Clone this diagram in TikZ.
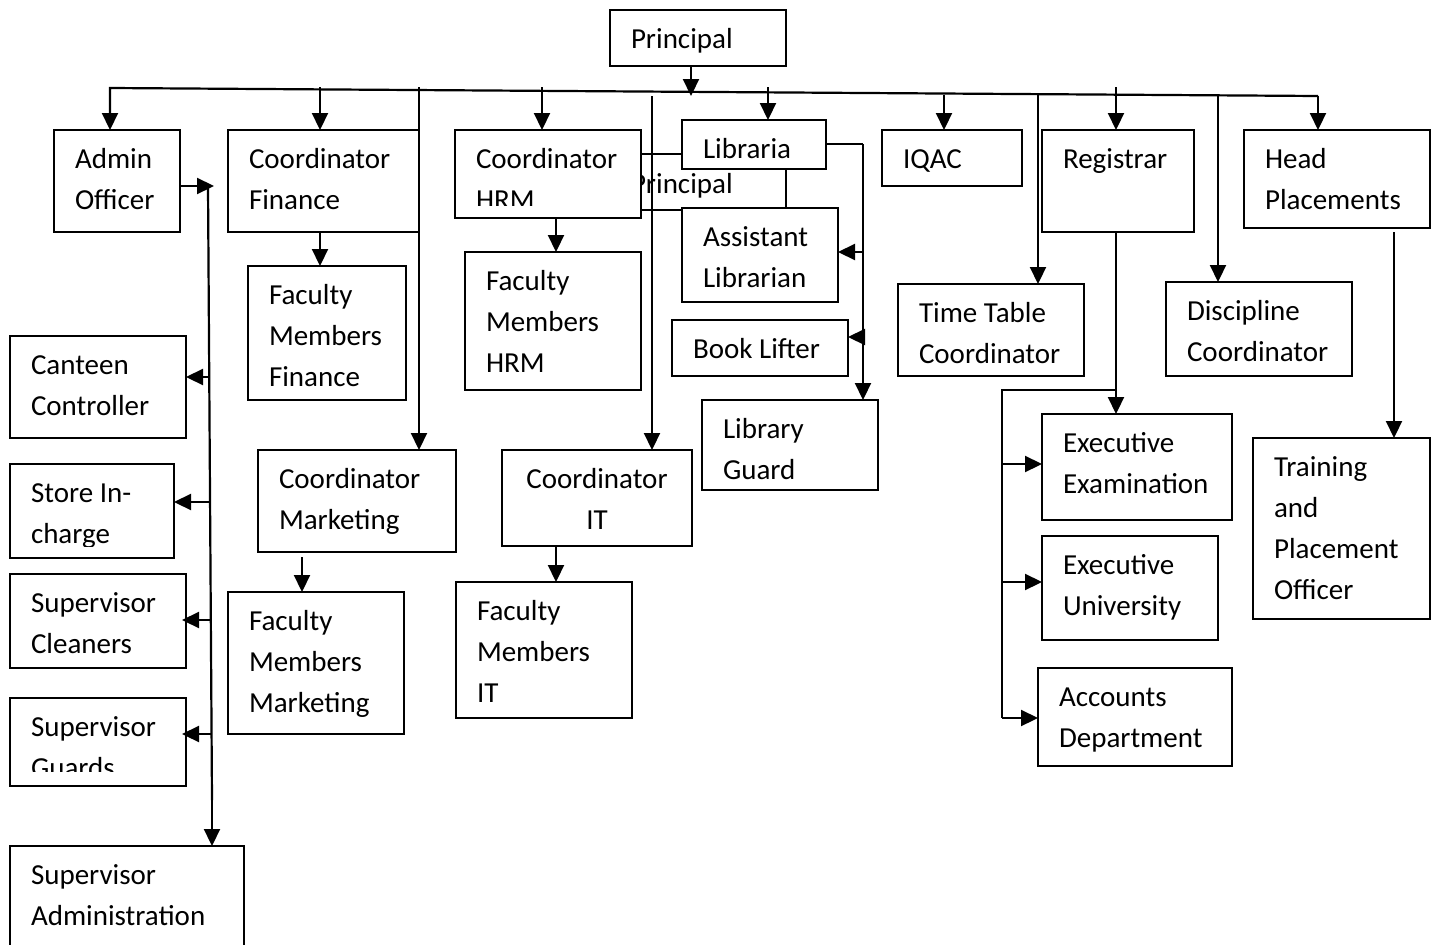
\documentclass[tikz,border=0pt]{standalone}
\usepackage{fontspec}
\setmainfont{Carlito}
\usetikzlibrary{arrows.meta,calc}
\tikzset{
  boxst/.style={draw, line width=2.2pt, fill=white, inner sep=0pt, outer sep=0pt, anchor=north west},
  txt/.style={inner sep=0pt, outer sep=0pt, font=\fontsize{29}{41}\selectfont, anchor=base west},
  wire/.style={line width=2.2pt},
  arrowed/.style={wire, -{Triangle[length=17pt 0 0,width=16pt 0 0]}},
}
\newcommand\obox[5]{\node[boxst, minimum width={(#4-#2)*1pt}, minimum height={(#5-#3)*1pt}] (#1) at (#2,#3) {};}
\newcommand\otext[2]{\node[txt] (#1-t) at ($(#1.north west)+(21,38)$) {\begin{tabular}[t]{@{}l@{}}#2\end{tabular}};}
\begin{document}
\begin{tikzpicture}[x=1pt,y=-1pt]
\useasboundingbox (0,0) rectangle (1436,945);
\fill[white] (0,0) rectangle (1436,945);

% stray text behind HRM box
\node[txt] (stray) at (631,193) {Principal};

% boxes
\obox{principal}{610}{10}{786}{66}
\obox{admin}{54}{130}{180}{232}
\obox{cfin}{228}{130}{419}{232}
\obox{fmfin}{248}{266}{406}{400}
\obox{canteen}{10}{336}{186}{438}
\obox{store}{10}{464}{174}{558}
\obox{sclean}{10}{574}{186}{668}
\obox{sguard}{10}{698}{186}{786}
\obox{sadmin}{10}{846}{244}{952}
\obox{cmkt}{258}{450}{456}{552}
\obox{fmmkt}{228}{592}{404}{734}
\obox{chrm}{455}{130}{641}{218}
\obox{fmhrm}{465}{252}{641}{390}
\obox{libr}{682}{120}{826}{169}
\obox{alib}{682}{208}{838}{302}
\obox{blift}{672}{320}{848}{376}
\obox{lguard}{702}{400}{878}{490}
\obox{cit}{502}{450}{692}{546}
\obox{fmit}{456}{582}{632}{718}
\obox{iqac}{882}{130}{1022}{186}
\obox{reg}{1042}{130}{1194}{232}
\obox{headp}{1244}{130}{1430}{228}
\obox{ttc}{898}{284}{1084}{376}
\obox{disc}{1166}{282}{1352}{376}
\obox{exexam}{1042}{414}{1232}{520}
\obox{exuni}{1042}{536}{1218}{640}
\obox{acc}{1038}{668}{1232}{766}
\obox{tpo}{1253}{438}{1430}{619}

% texts
\otext{principal}{Principal}
\otext{admin}{Admin\\Officer}
\otext{cfin}{Coordinator\\Finance}
\otext{fmfin}{Faculty\\Members\\Finance}
\otext{canteen}{Canteen\\Controller}
\begin{scope}\clip (10,464) rectangle (174,546);
\otext{store}{Store In-\\charge}
\end{scope}
\otext{sclean}{Supervisor\\Cleaners}
\begin{scope}\clip (10,698) rectangle (186,771);
\otext{sguard}{Supervisor\\Guards}
\end{scope}
\otext{sadmin}{Supervisor\\Administration}
\otext{cmkt}{Coordinator\\Marketing}
\otext{fmmkt}{Faculty\\Members\\Marketing}
\begin{scope}\clip (455,130) rectangle (641,205);
\otext{chrm}{Coordinator\\HRM}
\end{scope}
\otext{fmhrm}{Faculty\\Members\\HRM}
\otext{libr}{Libraria}
\otext{alib}{Assistant\\Librarian}
\otext{blift}{Book Lifter}
\otext{lguard}{Library\\Guard}
\node[txt, anchor=base] (cit-t) at ($(cit.north)+(0,38)$) {\begin{tabular}[t]{@{}c@{}}Coordinator\\IT\end{tabular}};
\otext{fmit}{Faculty\\Members\\IT}
\otext{iqac}{IQAC}
\otext{reg}{Registrar}
\otext{headp}{Head\\Placements}
\otext{ttc}{Time Table\\Coordinator}
\otext{disc}{Discipline\\Coordinator}
\otext{exexam}{Executive\\Examination}
\otext{exuni}{Executive\\University}
\otext{acc}{Accounts\\Department}
\otext{tpo}{Training\\and\\Placement\\Officer}

% bus taps
\coordinate (tAdmin) at (110,88);
\coordinate (tFin) at (320,87);
\coordinate (tMkt) at (419,87);
\coordinate (tHrm) at (542,87);
\coordinate (tIT) at (652,96);
\coordinate (pTap) at (691,96);
\coordinate (tLib) at (768,87);
\coordinate (tIqac) at (944,95);
\coordinate (tTt) at (1038,95);
\coordinate (tReg) at (1116,87);
\coordinate (tDisc) at (1218,95);
\coordinate (tHead) at (1318,96);

% principal to bus
\draw[arrowed] (principal.south -| pTap) -- (pTap);
\draw[arrowed] (tHead) -- (tAdmin) -- (tAdmin |- admin.north);
\draw[arrowed] (tHead) -- (tHead |- headp.north);
\draw[arrowed] (tFin) -- (tFin |- cfin.north);
\draw[arrowed] (tMkt) -- (tMkt |- cmkt.north);
\draw[arrowed] (tHrm) -- (tHrm |- chrm.north);
\draw[arrowed] (tIT) -- (tIT |- cit.north);
\draw[arrowed] (tLib) -- (tLib |- libr.north);
\draw[arrowed] (tIqac) -- (tIqac |- iqac.north);
\draw[arrowed] (tTt) -- (tTt |- ttc.north);
\draw[arrowed] (tReg) -- (tReg |- reg.north);
\draw[arrowed] (tDisc) -- (tDisc |- disc.north);

% finance, marketing, hrm, it
\draw[arrowed] (tFin |- cfin.south) -- (tFin |- fmfin.north);
\coordinate (mk) at (302,557);
\draw[arrowed] (mk) -- (mk |- fmmkt.north);
\coordinate (hr) at (556,218);
\draw[arrowed] (hr |- chrm.south) -- (hr |- fmhrm.north);
\draw[arrowed] (hr |- cit.south) -- (hr |- fmit.north);

% admin officer branch
\coordinate (aTop) at (208,186);
\coordinate (aTip) at (214,186);
\coordinate (aBot) at (212,800);
\draw[arrowed] (admin.east |- aTop) -- (aTip);
\draw[wire] (aTop) -- (aBot);
\draw[arrowed] (aBot) -- (aBot |- sadmin.north);
\coordinate (c1) at (209,377);
\coordinate (c2) at (210,502);
\coordinate (c3) at (210,620);
\coordinate (c4) at (211,734);
\draw[arrowed] (c1) -- (c1 -| canteen.east);
\draw[arrowed] (c2) -- (c2 -| store.east);
\draw[arrowed, shorten >=-4pt] (c3) -- (c3 -| sclean.east);
\draw[arrowed, shorten >=-4pt] (c4) -- (c4 -| sguard.east);

% hrm to library
\coordinate (h1) at (0,154);
\coordinate (h2) at (0,210);
\draw[wire] (chrm.east |- h1) -- (libr.west |- h1);
\draw[wire] (chrm.east |- h2) -- (alib.west |- h2);
\coordinate (lv) at (786,169);
\draw[wire] (lv |- libr.south) -- (lv |- alib.north);
\coordinate (lr) at (863,144);
\draw[wire] (libr.east |- lr) -- (lr);
\draw[arrowed] (lr) -- (lr |- lguard.north);
\coordinate (la) at (863,252);
\coordinate (lb) at (863,337);
\draw[arrowed] (la) -- (la -| alib.east);
\draw[arrowed] (lb) -- (lb -| blift.east);

% registrar
\draw[arrowed] (tReg |- reg.south) -- (tReg |- exexam.north);
\coordinate (rb) at (1116,390);
\coordinate (rl) at (1002,390);
\coordinate (rbot) at (1002,718);
\draw[wire] (rb) -- (rl) -- (rbot);
\coordinate (r1) at (1002,464);
\coordinate (r2) at (1002,582);
\draw[arrowed] (r1) -- (r1 -| exexam.west);
\draw[arrowed] (r2) -- (r2 -| exuni.west);
\draw[arrowed] (rbot) -- (rbot -| acc.west);

% head placements
\coordinate (hp) at (1394,232);
\draw[arrowed] (hp) -- (hp |- tpo.north);
\end{tikzpicture}
\end{document}
